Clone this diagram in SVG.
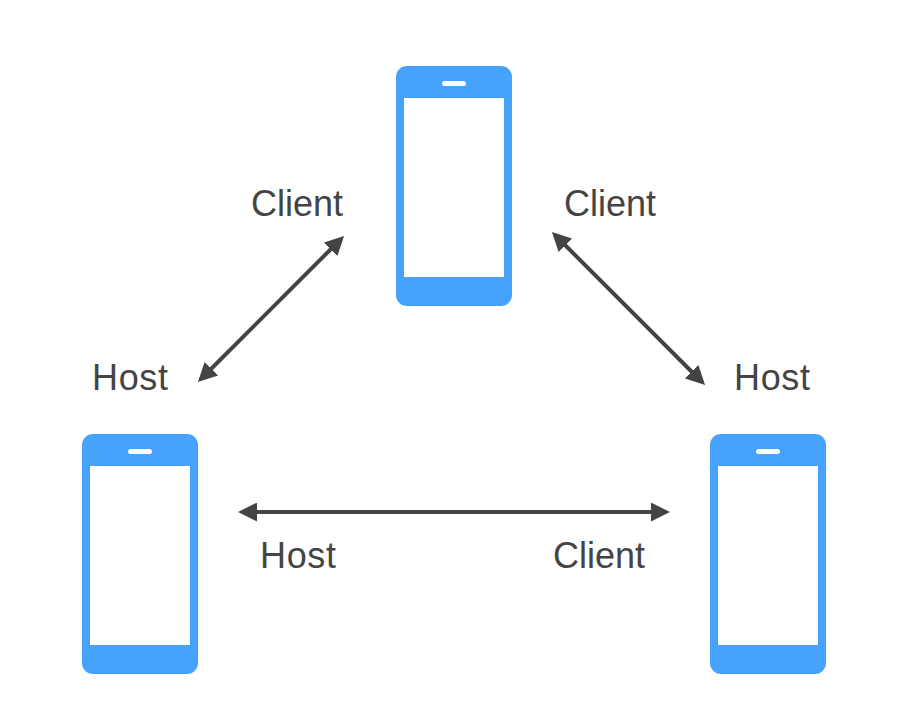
<svg xmlns="http://www.w3.org/2000/svg" width="902" height="724" viewBox="0 0 902 724">
<style>
.body{fill:#47a2fc}.screen{fill:#fff}.slot{fill:#fff}
.lbl{font-family:"Liberation Sans",Arial,sans-serif;font-size:36px;fill:#444}
.conn{stroke:#444;stroke-width:4;fill:none;marker-start:url(#a);marker-end:url(#a)}
</style>
<defs>
<marker id="a" markerUnits="userSpaceOnUse" markerWidth="19" markerHeight="19" refX="9" refY="9.5" orient="auto-start-reverse"><path d="M0 0L19 9.5L0 19z" fill="#444"/></marker>
<g id="phone"><rect class="body" width="116" height="240" rx="11"/><rect class="screen" x="8" y="32" width="100" height="179"/><rect class="slot" x="46" y="15" width="24" height="5" rx="2.5"/></g>
</defs>
<rect width="902" height="724" fill="#fff"/>
<g id="connectors">
<line class="conn" x1="337" y1="243" x2="205" y2="375"/>
<line class="conn" x1="559" y1="239" x2="698" y2="378"/>
<line class="conn" x1="248" y1="512" x2="660" y2="512"/>
</g>
<g id="phone-top"><use href="#phone" x="396" y="66"/></g>
<g id="phone-left"><use href="#phone" x="82" y="434"/></g>
<g id="phone-right"><use href="#phone" x="710" y="434"/></g>
<g id="labels">
<text class="lbl" x="251" y="216">Client</text>
<text class="lbl" x="564" y="216">Client</text>
<text class="lbl" x="92" y="390" textLength="76">Host</text>
<text class="lbl" x="734" y="390" textLength="76">Host</text>
<text class="lbl" x="260" y="568" textLength="76">Host</text>
<text class="lbl" x="553" y="568">Client</text>
</g>
</svg>
